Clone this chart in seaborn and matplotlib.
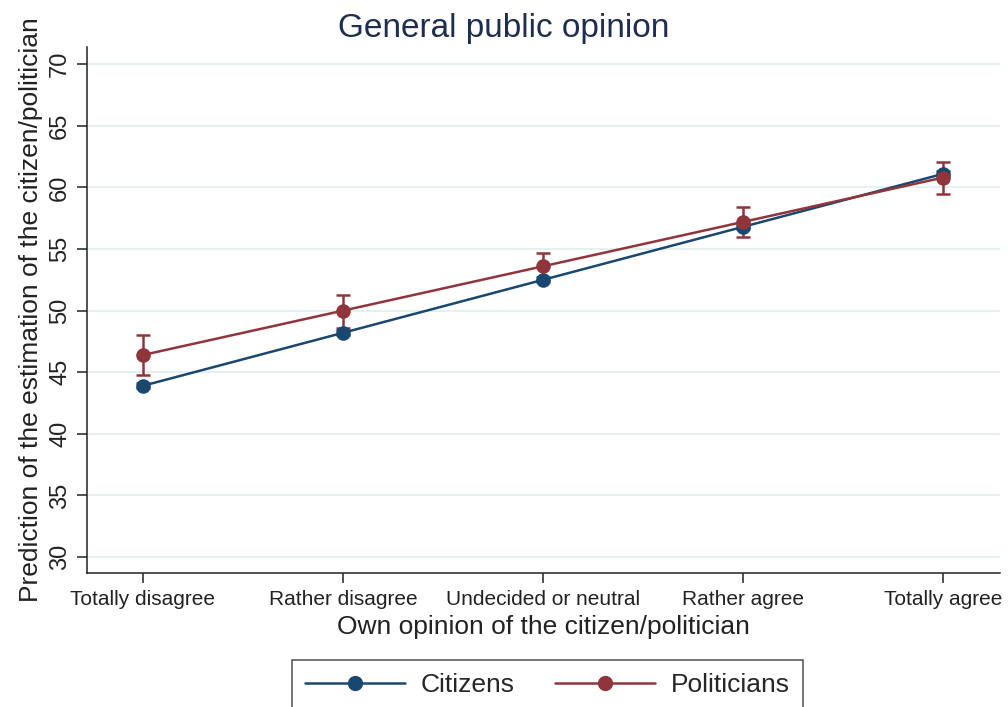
import matplotlib
matplotlib.use("Agg")
import matplotlib.pyplot as plt
import seaborn as sns
import pandas as pd
import numpy as np

# Response categories on the x axis
categories = ["Totally disagree", "Rather disagree", "Undecided or neutral",
              "Rather agree", "Totally agree"]

# Predicted estimation with 95% confidence bounds
citizens_mean = [43.9, 48.2, 52.5, 56.8, 61.1]
citizens_low = [43.7, 48.0, 52.3, 56.6, 60.9]
citizens_high = [44.1, 48.4, 52.7, 57.0, 61.3]

politicians_mean = [46.4, 50.0, 53.6, 57.2, 60.8]
politicians_low = [44.8, 48.6, 52.5, 56.0, 59.5]
politicians_high = [48.0, 51.3, 54.7, 58.4, 62.1]

groups = ["Citizens", "Politicians"]
colors = {"Citizens": "#1a476f", "Politicians": "#90353b"}

pos = np.arange(1, len(categories) + 1)
df = pd.DataFrame({
    "pos": np.concatenate([pos, pos]),
    "mean": citizens_mean + politicians_mean,
    "low": citizens_low + politicians_low,
    "high": citizens_high + politicians_high,
    "group": [groups[0]] * len(pos) + [groups[1]] * len(pos),
})

sns.set_theme(style="white")
plt.rcParams["font.family"] = ["Liberation Sans", "DejaVu Sans"]

fig = plt.figure(figsize=(10.08, 7.07), dpi=100)
ax = fig.add_axes([0.0863, 0.1895, 0.9057, 0.744])

# Confidence intervals with caps
for g in groups:
    sub = df[df["group"] == g]
    ax.errorbar(sub["pos"], sub["mean"],
                yerr=[sub["mean"] - sub["low"], sub["high"] - sub["mean"]],
                fmt="none", ecolor=colors[g], elinewidth=1.8,
                capsize=5, capthick=1.8, zorder=2)

sns.lineplot(data=df, x="pos", y="mean", hue="group", hue_order=groups,
             palette=colors, marker="o", markersize=10.5, markeredgewidth=0,
             linewidth=1.8, ax=ax, zorder=3)

ax.set_xlim(0.72, 5.285)
ax.set_ylim(28.7, 71.4)
ax.set_xticks(pos)
ax.set_xticklabels(categories, fontsize=15)
ax.set_yticks(np.arange(30, 71, 5))
ax.set_yticklabels([str(v) for v in range(30, 71, 5)], fontsize=17,
                   rotation=90, va="center")
ax.yaxis.grid(True, color="#e3eff0", linewidth=1.3)
ax.xaxis.grid(False)
ax.set_axisbelow(True)

for s in ["top", "right"]:
    ax.spines[s].set_visible(False)
for s in ["left", "bottom"]:
    ax.spines[s].set_color("#222222")
    ax.spines[s].set_linewidth(1.1)
ax.tick_params(axis="both", direction="out", length=7.5, width=1.1,
               color="#222222", labelcolor="#222222", left=True, bottom=True)
ax.tick_params(axis="y", pad=4)
ax.tick_params(axis="x", pad=5)

ax.set_xlabel("Own opinion of the citizen/politician", fontsize=19,
              color="#222222", labelpad=4)
ax.set_ylabel("Prediction of the estimation of the citizen/politician",
              fontsize=19, color="#222222", labelpad=4)
fig.suptitle("General public opinion", fontsize=24, color="#1e2d50",
             x=0.5, y=0.981, va="top")

handles, labels = ax.get_legend_handles_labels()
ax.get_legend().remove()
for h in handles:
    h.set_markersize(11)
leg = fig.legend(handles, labels, loc="upper center",
                 bbox_to_anchor=(0.543, 0.067), ncol=2, fontsize=19,
                 frameon=True, fancybox=False, edgecolor="#222222",
                 handlelength=3.8, columnspacing=1.5, borderpad=0.5,
                 handletextpad=0.6, borderaxespad=0)
leg.get_frame().set_linewidth(1.1)

fig.savefig("out.png", dpi=100)
